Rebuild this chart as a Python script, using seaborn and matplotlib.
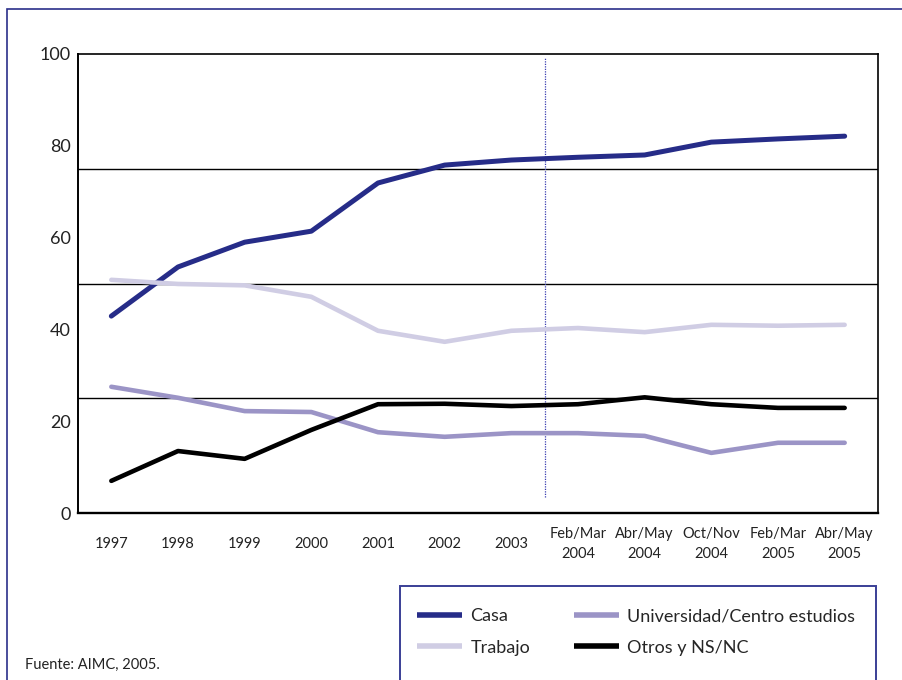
import pandas as pd
import matplotlib
matplotlib.use('Agg')
import matplotlib.pyplot as plt
from matplotlib.patches import Rectangle
from matplotlib.lines import Line2D
import seaborn as sns

periodos = ['1997', '1998', '1999', '2000', '2001', '2002', '2003',
            'Feb/Mar\n2004', 'Abr/May\n2004', 'Oct/Nov\n2004', 'Feb/Mar\n2005', 'Abr/May\n2005']
casa = [42.9, 53.6, 59.0, 61.4, 71.9, 75.8, 76.9, 77.5, 78.0, 80.8, 81.5, 82.1]
trabajo = [50.8, 49.9, 49.6, 47.1, 39.7, 37.3, 39.7, 40.3, 39.4, 41.0, 40.8, 41.0]
universidad = [27.5, 25.1, 22.2, 22.0, 17.6, 16.6, 17.4, 17.4, 16.8, 13.1, 15.3, 15.3]
otros = [7.0, 13.5, 11.8, 18.1, 23.7, 23.8, 23.3, 23.7, 25.2, 23.7, 22.9, 22.9]

series = ['Casa', 'Trabajo', 'Universidad/Centro estudios', 'Otros y NS/NC']
colores = ['#262c88', '#d0cde4', '#9b94c6', '#000000']

df = pd.DataFrame({'pos': list(range(len(periodos))) * 4,
                   'valor': casa + trabajo + universidad + otros,
                   'serie': [s for s in series for _ in periodos]})

sns.set_style('white')
plt.rcParams['font.family'] = ['Lato', 'DejaVu Sans']

fig = plt.figure(figsize=(9.03, 6.8), dpi=100)
ax = fig.add_axes([78 / 903, 1 - 513 / 680, 800 / 903, 459 / 680])

# reference lines
for y in (25, 50, 75):
    ax.axhline(y, color='black', lw=1.0, zorder=1)
ax.axvline(6.5, ymin=0.035, ymax=0.993, ls=(0, (1, 1)), color='#3b3fb0', lw=0.9, zorder=1)

sns.lineplot(data=df, x='pos', y='valor', hue='serie', hue_order=series,
             palette=dict(zip(series, colores)), linewidth=3.3, legend=False,
             ax=ax, zorder=3)
for ln in ax.get_lines()[-4:]:
    ln.set_solid_capstyle('round')
ax.get_lines()[-4].set_linewidth(3.6)

ax.set_xlim(-0.5, 11.5)
ax.set_ylim(0, 100)
ax.set_yticks(range(0, 101, 20))
ax.set_xticks(range(len(periodos)))
ax.set_xticklabels(periodos, fontsize=10.5, color='#222222', linespacing=1.55)
ax.set_xticks([i + 0.5 for i in range(len(periodos) - 1)], minor=True)
ax.tick_params(axis='x', which='major', length=0, pad=22)
ax.tick_params(axis='x', which='minor', direction='in', length=8, width=1.2, color='black')
ax.tick_params(axis='y', length=0, pad=5, labelsize=13, labelcolor='#222222')
for t in ax.get_xticklabels():
    t.set_va('center')
ax.set_xlabel('')
ax.set_ylabel('')
for s in ax.spines.values():
    s.set_visible(True)
    s.set_color('black')
    s.set_linewidth(1.2)
ax.spines['bottom'].set_linewidth(1.7)
ax.spines['left'].set_linewidth(1.4)

# outer frame and legend box
fig.patches.append(Rectangle((7 / 903, -0.1), 1.2, 1 - 9 / 680 + 0.1, transform=fig.transFigure,
                             fill=False, edgecolor='#2a2f8a', lw=1.2))
fig.patches.append(Rectangle((400 / 903, -0.1), 476 / 903, 1 - 586 / 680 + 0.1,
                             transform=fig.transFigure, fill=False, edgecolor='#3a3f96', lw=1.4))

handles = [Line2D([], [], color=c, lw=4.0, solid_capstyle='butt') for c in colores]
fig.legend(handles, series, ncol=2, frameon=False, fontsize=13, handlelength=2.5,
           handletextpad=0.45, columnspacing=2.4, labelspacing=0.85,
           loc='upper left', bbox_to_anchor=(401 / 903, 1 - 592 / 680))

fig.text(25 / 903, 1 - 665 / 680, 'Fuente: AIMC, 2005.', fontsize=10.5, va='center', color='#222222')

fig.savefig('out.png', dpi=100)
